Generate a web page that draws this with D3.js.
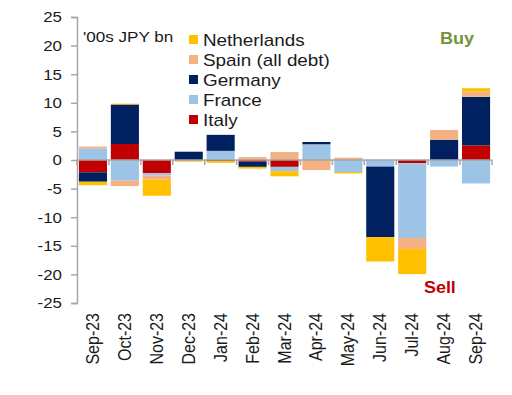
<!DOCTYPE html>
<html>
<head>
<meta charset="utf-8">
<script src="https://cdn.jsdelivr.net/npm/d3@7"></script>
<style>
  body { margin: 0; background: #fff; }
  svg text { font-family: "Liberation Sans", Arial, sans-serif; fill: #1a1a1a; }
</style>
</head>
<body>
<div class="visHolder"></div>
<script>
// chart data
var months = ['Sep-23', 'Oct-23', 'Nov-23', 'Dec-23', 'Jan-24', 'Feb-24', 'Mar-24',
              'Apr-24', 'May-24', 'Jun-24', 'Jul-24', 'Aug-24', 'Sep-24'];
var italy       = [-2.15, 2.8, -2.3, 0, -0.2, -0.3, -1.2, 0, 0, 0, -0.55, 0, 2.55];
var france      = [2.0, -3.6, -0.4, 0, 1.6, 0, -0.75, 2.75, -2.1, -1.15, -13.1, -1.15, -4.1];
var germany     = [-1.65, 6.9, 0, 1.45, 2.8, -0.9, 0, 0.4, 0, -12.35, 0, 3.55, 8.5];
var spain       = [0.35, -0.95, -0.75, -0.2, 0, 0.5, 1.4, -1.75, 0.4, 0, -1.9, 1.7, 0.9];
var netherlands = [-0.6, 0.15, -2.8, -0.1, -0.3, -0.3, -0.9, 0, -0.25, -4.25, -4.4, 0, 0.6];
var yTicks = [-25, -20, -15, -10, -5, 0, 5, 10, 15, 20, 25];

// stacking order (bottom first) and legend order (top first)
var seriesKeys = ['Italy', 'France', 'Germany', 'Spain', 'Netherlands'];
var legendKeys = ['Netherlands', 'Spain (all debt)', 'Germany', 'France', 'Italy'];
var colors = {
  'Italy': '#c00000',
  'France': '#9dc3e6',
  'Germany': '#002060',
  'Spain': '#f4b183',
  'Netherlands': '#ffc000'
};
var legendColors = ['#ffc000', '#f4b183', '#002060', '#9dc3e6', '#c00000'];

var width = 512, height = 395;
var sx = 1.18; // the source picture is a bit stretched sideways

var rows = months.map(function(m, i) {
  return { month: m, Italy: italy[i], France: france[i], Germany: germany[i],
           Spain: spain[i], Netherlands: netherlands[i] };
});

var svg = d3.select('.visHolder').append('svg')
  .attr('width', width)
  .attr('height', height);

var x = d3.scaleBand()
  .domain(months)
  .range([77, 492])
  .paddingInner(0.12)
  .paddingOuter(0.06);

var y = d3.scaleLinear()
  .domain([-25, 25])
  .range([303, 17]);

var stack = d3.stack()
  .keys(seriesKeys)
  .offset(d3.stackOffsetDiverging);

var layers = stack(rows);

svg.append('g').selectAll('g')
  .data(layers)
  .enter()
  .append('g')
  .attr('fill', function(d) { return colors[d.key]; })
  .selectAll('rect')
  .data(function(d) { return d; })
  .enter()
  .append('rect')
  .attr('x', function(d) { return x(d.data.month); })
  .attr('width', x.bandwidth())
  .attr('y', function(d) { return y(Math.max(d[0], d[1])); })
  .attr('height', function(d) { return Math.abs(y(d[0]) - y(d[1])); });

// y axis
var yAxis = d3.axisLeft(y)
  .tickValues(yTicks)
  .tickSize(6)
  .tickFormat(function(d) { return d; });

var yAxisGroup = svg.append('g')
  .attr('transform', 'translate(77, 0)')
  .call(yAxis);

yAxisGroup.select('.domain').attr('stroke', '#a6a6a6').attr('stroke-width', 1.5);
yAxisGroup.selectAll('.tick line').attr('stroke', '#a6a6a6').attr('stroke-width', 1.5);
yAxisGroup.selectAll('.tick text')
  .attr('x', 0)
  .attr('dy', '0.35em')
  .style('font-size', '14px')
  .style('font-family', '"Liberation Sans", Arial, sans-serif')
  .attr('fill', '#1a1a1a')
  .attr('transform', 'translate(-15, 0) scale(' + (sx + 0.03) + ', 1)');

// zero line with ticks between months
var edges = months.map(function(m) { return x(m) - x.step() * x.paddingInner() / 2; });
edges.push(492);

svg.append('line')
  .attr('x1', 77).attr('x2', 492)
  .attr('y1', y(0)).attr('y2', y(0))
  .attr('stroke', '#a6a6a6')
  .attr('stroke-width', 1.5);

svg.append('g').selectAll('line')
  .data(edges)
  .enter()
  .append('line')
  .attr('x1', function(d) { return d; })
  .attr('x2', function(d) { return d; })
  .attr('y1', y(0))
  .attr('y2', y(0) + 5)
  .attr('stroke', '#a6a6a6')
  .attr('stroke-width', 1.5);

// month labels, rotated
svg.append('g').selectAll('text')
  .data(months)
  .enter()
  .append('text')
  .attr('transform', function(d) {
    return 'translate(' + (x(d) + x.bandwidth() / 2 + 6) + ', 313) scale(' + sx + ', 1) rotate(-90)';
  })
  .attr('text-anchor', 'end')
  .style('font-size', '16px')
  .text(function(d) { return d; });

// unit label
svg.append('text')
  .attr('transform', 'translate(83, 42) scale(1.14, 1)')
  .style('font-size', '15px')
  .text("'00s JPY bn");

// legend
var legend = svg.append('g').selectAll('g')
  .data(legendKeys)
  .enter()
  .append('g')
  .attr('transform', function(d, i) { return 'translate(189, ' + (35 + i * 20) + ')'; });

legend.append('rect')
  .attr('width', 9)
  .attr('height', 9)
  .attr('fill', function(d, i) { return legendColors[i]; });

legend.append('text')
  .attr('transform', 'translate(14, 11) scale(' + sx + ', 1)')
  .style('font-size', '16px')
  .text(function(d) { return d; });

// buy / sell notes
svg.append('text')
  .attr('transform', 'translate(440, 44) scale(1.13, 1)')
  .style('font-size', '16px')
  .style('font-weight', 'bold')
  .style('fill', '#76923c')
  .text('Buy');

svg.append('text')
  .attr('transform', 'translate(424, 293) scale(1.12, 1)')
  .style('font-size', '16px')
  .style('font-weight', 'bold')
  .style('fill', '#c00000')
  .text('Sell');
</script>
</body>
</html>
